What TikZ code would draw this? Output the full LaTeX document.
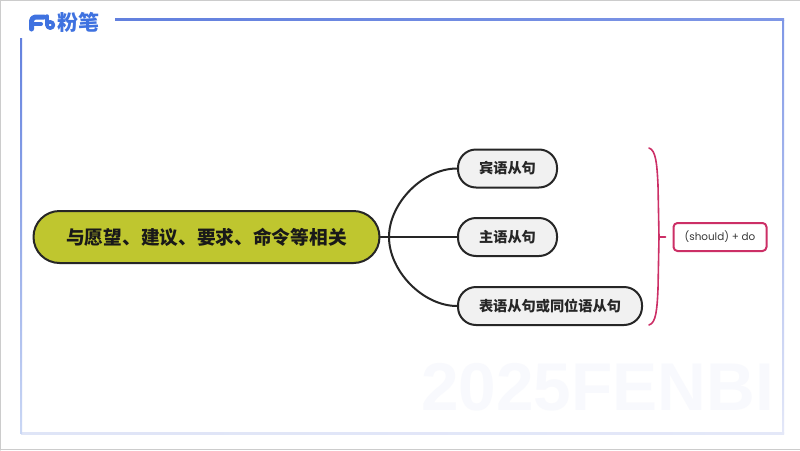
\documentclass[tikz,border=0pt]{standalone}
\usepackage{fontspec}
\setmainfont{Noto Sans CJK SC}
\newfontfamily\notefont{Poppins}
\newfontfamily\markfont{Liberation Sans}
\definecolor{framebluea}{HTML}{6280DE}
\definecolor{frameblued}{HTML}{7F97E6}
\definecolor{frameblueb}{HTML}{B4C6F0}
\definecolor{framebluec}{HTML}{E4E8F8}
\definecolor{mainfill}{HTML}{BFC62F}
\definecolor{subfill}{HTML}{F1F1F1}
\definecolor{notered}{HTML}{CC2F66}
\definecolor{logoblue}{HTML}{3F72E0}
\tikzset{
	mainnode/.style={draw=black!85,line width=2pt,rounded corners=26pt,fill=mainfill,minimum width=346pt,minimum height=52pt,inner sep=0pt,text=black!90,font=\fontsize{18.7}{24}\selectfont\bfseries},
	subnode/.style={draw=black!85,line width=2pt,rounded corners=18pt,fill=subfill,minimum height=38pt,inner sep=0pt,text=black!85,font=\fontsize{14.2}{17}\selectfont\bfseries},
	link/.style={draw=black!85,line width=2pt},
	notelink/.style={draw=notered,line width=1.6pt}
}
\begin{document}
\begin{tikzpicture}[x=1pt,y=-1pt,line join=round,line cap=round]
	\useasboundingbox (0,0) rectangle (800,450);
	\fill[white] (0,0) rectangle (800,450);
	\draw[black!20,line width=2pt] (0,450)--(0,0)--(800,0);
	\draw[black!20,line width=1.2pt] (0,449.5)--(800,449.5);
	% frame
	\shade[left color=framebluea,right color=frameblued] (115,18) rectangle (784,20);
	\shade[top color=frameblued,bottom color=framebluec] (782,20) rectangle (784,433);
	\shade[left color=framebluec!90!frameblueb,right color=framebluec] (21,432) rectangle (784,434);
	\shade[top color=framebluea,bottom color=frameblueb!70] (20,38) rectangle (22,433);
	% watermark
	\node[text=framebluec!27,inner sep=0pt,anchor=base west] (mark) at (421,410) {\markfont\bfseries\fontsize{67.5}{70}\selectfont 2025FENBI};
	% logo
	\draw[logoblue,line width=5pt,rounded corners=4pt] (31.5,29)--(31.5,17)--(44,17);
	\draw[logoblue,line width=4pt] (33,24)--(41,24);
	\draw[logoblue,line width=3.5pt] (47,16)--(47,25);
	\draw[logoblue,line width=3.5pt] (50.2,25) circle[radius=3.2];
	\node[text=logoblue,inner sep=0pt,font=\fontsize{21}{24}\selectfont\bfseries] (logo) at (78,22) {粉笔};
	% nodes
	\node[mainnode] (main) at (206.5,237) {与愿望、建议、要求、命令等相关};
	\node[subnode,minimum width=99pt] (obj) at (507.5,168.5) {宾语从句};
	\node[subnode,minimum width=99pt] (subj) at (507.5,237) {主语从句};
	\node[subnode,minimum width=184pt] (pred) at (550,306) {表语从句或同位语从句};
	\node[draw=notered,line width=2pt,rounded corners=4pt,minimum width=93pt,minimum height=28pt,inner sep=0pt,text=black!78,font=\notefont\fontsize{10.4}{12}\selectfont] (note) at (720,237) {(should) + do};
	% links
	\coordinate (fork) at (389,237);
	\draw[link] (main.east)--(subj.west);
	\draw[link] (fork) to[out=90,in=180,looseness=0.9] (obj.west);
	\draw[link] (fork) to[out=-90,in=180,looseness=0.9] (pred.west);
	% brace
	\coordinate (bracetip) at (659,237);
	\coordinate (tickend) at (665.5,237);
	\draw[notelink] (649,148) .. controls (656,150) and (657,165) .. (658,185) -- (bracetip) -- (658,289) .. controls (657,310) and (656,323) .. (649,325);
	\draw[notelink] (bracetip)--(tickend);
\end{tikzpicture}
\end{document}
